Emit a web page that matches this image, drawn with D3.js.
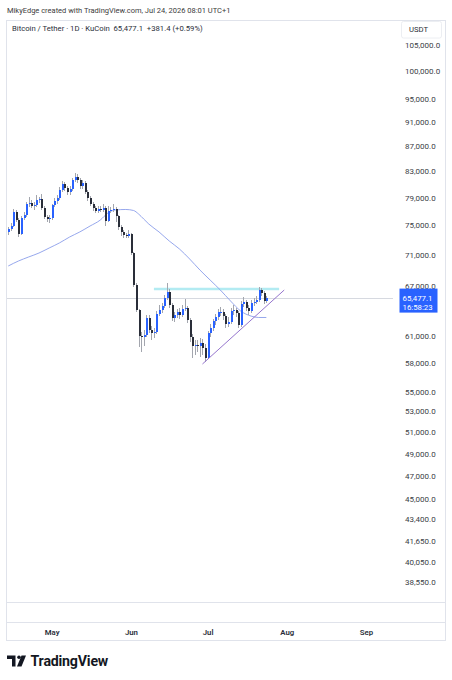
<!DOCTYPE html>
<html><head><meta charset="utf-8">
<script src="https://cdn.jsdelivr.net/npm/d3@7"></script>
<style>
body{margin:0;background:#fff;}
svg{display:block;font-family:Roboto,"Noto Sans",sans-serif;}
</style></head><body>
<svg id="c" width="452" height="680"></svg>
<script>
// ---------- DATA ----------
const startDate = "2026-04-14";
const opens = [74080,74490,74900,76890,75740,73800,76030,76460,78050,78190,
 77760,77900,78630,78780,77470,76170,75890,76030,77900,78480,
 78920,80100,81010,80400,79800,80250,81620,82080,81620,80710,
 81160,79800,78920,78050,77470,77040,77320,77180,77470,75600,
 77040,77180,77320,76320,74760,74080,73660,73520,73800,71220,
 67090,64030,61000,60890,61120,63090,61690,61350,61460,63560,
 64030,64510,65480,66220,64630,63090,63440,63790,63440,64150,
 64270,62850,60890,59880,59990,59880,60210,59650,58550,61350,
 61920,62740,63200,63790,63850,63320,62390,62620,63910,64030,
 63680,62270,64750,65000,64270,63910,64870,65050,65240,66470,
 66100,65095.7];
const closes = [74490,74900,76890,75740,73800,76030,76460,78050,78190,77760,
 77900,78630,78780,77470,76170,75890,76030,77900,78480,78920,
 80100,81010,80400,79800,80250,81620,82080,81620,80710,81160,
 79800,78920,78050,77470,77040,77320,77180,77470,75600,77040,
 77180,77320,76320,74760,74080,73660,73520,73800,71220,67090,
 64030,61000,60890,61120,63090,61690,61350,61460,63560,64030,
 64510,65480,66220,64630,63090,63440,63790,63440,64150,64270,
 62850,60890,59880,59990,59880,60210,59650,58550,61350,61920,
 62740,63200,63790,63850,63320,62390,62620,63910,64030,63680,
 62270,64750,65000,64270,63910,64870,65050,65240,66470,66100,
 65095.7,65477.1];
const highs = [74800,75300,77300,77200,76000,76300,76900,78400,79000,78700,
 78300,79300,79100,79500,77700,76500,76500,78100,78900,79300,
 80600,81500,81300,80700,80700,82000,82700,82500,81900,81600,
 81400,80100,79200,78300,77800,77700,77800,78100,77800,77800,
 77600,78000,77600,76500,75000,74300,74000,74300,74000,71400,
 67300,64200,61500,61700,63500,63400,62100,61900,63900,64600,
 64900,65900,67300,66600,64900,63800,64200,64300,64600,65400,
 64500,63100,61200,60600,60500,60800,60700,60100,61600,62400,
 63000,63600,64200,64400,64100,63600,63200,64300,64600,64300,
 63900,65100,65600,65300,64600,65200,65500,65700,66800,66750,
 66300,65700];
const lows = [73700,74200,74700,75500,73400,73600,75800,76200,77600,77400,
 77200,77600,78200,77200,75900,75500,75300,75800,77600,78100,
 78700,79800,80000,79400,79300,80000,81300,81200,80300,80300,
 79500,78500,77700,77100,76700,76800,76900,76900,74900,75400,
 76700,76900,75500,74400,73500,73300,73200,73300,71000,66800,
 63800,59800,59200,59900,60900,61300,60500,60800,61200,63300,
 63700,64300,65200,64300,62700,62600,63100,63000,63200,63900,
 62500,60300,58500,58900,59200,58700,58900,58100,58400,60900,
 61600,62300,62900,63300,62900,61900,62000,62400,63500,63200,
 61900,62000,64400,63900,63400,63700,64500,64800,65000,65700,
 64800,64900];
// moving average, read at a few dates
const maDates = ["2026-04-14","2026-04-18","2026-04-22","2026-04-26","2026-04-30","2026-05-04","2026-05-08","2026-05-12","2026-05-16","2026-05-20","2026-05-23","2026-05-26","2026-05-30","2026-06-02","2026-06-04","2026-06-06","2026-06-08","2026-06-12","2026-06-16","2026-06-20","2026-06-24","2026-06-28","2026-07-02","2026-07-06","2026-07-10","2026-07-14","2026-07-18","2026-07-21","2026-07-24"];
const maValues = [69520,70170,70700,71220,71890,72570,73380,74080,74900,75740,76750,77180,77250,77110,76600,75890,75180,74080,72840,71760,70430,69000,67720,66470,65120,63910,63320,63150,63150];
const resistance = {from:"2026-06-10", to:"2026-07-29", price:66600};
const trendline = {from:"2026-06-29", p1:57900, to:"2026-07-31", p2:66470};
const priceTicks = [105000,100000,95000,91000,87000,83000,79000,75000,71000,67000,61000,58000,55000,53000,51000,49000,47000,45000,43400,41650,40050,38550];
const monthTicks = ["2026-05-01","2026-06-01","2026-07-01","2026-08-01","2026-09-01"];
const lastPrice = 65477.1, lastTime = "16:58:23";
const headerText = "MikyEdge created with TradingView.com, Jul 24, 2026 08:01 UTC+1";
const legendText = "Bitcoin / Tether · 1D · KuCoin  65,477.1  +381.4 (+0.59%)";

// ---------- LAYOUT ----------
const L=6.5, R=445.5, PR=393, TOP=20.5, PB=602.5, SB=622.5, BOT=640.5;
const UP="#2962ff", DN="#2a2e39", BORDER="#e0e3eb";
const parse=d3.timeParse("%Y-%m-%d");
const svg=d3.select("#c");
const x=d3.scaleTime().domain([parse("2026-05-01"),parse("2026-09-01")]).range([51.7,366]);
const y=d3.scaleLog().domain([38550,105000]).range([582,45]);
const start=parse(startDate);
const bars=closes.map((c,i)=>({d:d3.timeDay.offset(start,i),o:opens[i],h:highs[i],l:lows[i],c:c}));

svg.append("text").attr("x",7).attr("y",13).attr("font-size",7.5).attr("fill","#3b3b3b").text(headerText);

// frame
const g=svg.append("g");
g.append("rect").attr("x",L).attr("y",TOP).attr("width",R-L).attr("height",BOT-TOP).attr("fill","none").attr("stroke",BORDER);
g.append("line").attr("x1",L).attr("x2",R).attr("y1",PB).attr("y2",PB).attr("stroke",BORDER);
g.append("line").attr("x1",L).attr("x2",R).attr("y1",SB).attr("y2",SB).attr("stroke",BORDER);

svg.append("defs").append("clipPath").attr("id","clip").append("rect").attr("x",L+0.5).attr("y",TOP+0.5).attr("width",PR-L).attr("height",PB-TOP-1);
const plot=svg.append("g").attr("clip-path","url(#clip)");

// current price line
plot.append("line").attr("x1",L).attr("x2",PR).attr("y1",Math.round(y(lastPrice))+0.5).attr("y2",Math.round(y(lastPrice))+0.5).attr("stroke","#d6d9e0").attr("stroke-width",1);

// resistance
plot.append("line").attr("x1",x(parse(resistance.from))).attr("x2",x(parse(resistance.to)))
 .attr("y1",y(resistance.price)).attr("y2",y(resistance.price)).attr("stroke","#b2ebf2").attr("stroke-width",2.5);

// MA
plot.append("path").datum(maDates.map((d,i)=>[parse(d),maValues[i]]))
 .attr("d",d3.line().x(d=>x(d[0])).y(d=>y(d[1])).curve(d3.curveMonotoneX))
 .attr("fill","none").attr("stroke","#8a9dea").attr("stroke-width",0.9);

// candles
const cg=plot.append("g").attr("shape-rendering","crispEdges");
cg.selectAll("line.w").data(bars).join("line")
 .attr("x1",d=>Math.round(x(d.d))+0.5).attr("x2",d=>Math.round(x(d.d))+0.5)
 .attr("y1",d=>y(d.h)).attr("y2",d=>y(d.l)).attr("stroke","#a3a6ae").attr("stroke-width",1);
cg.selectAll("rect.b").data(bars).join("rect")
 .attr("x",d=>Math.round(x(d.d))-0.5).attr("width",2)
 .attr("y",d=>y(Math.max(d.o,d.c))).attr("height",d=>Math.max(1,y(Math.min(d.o,d.c))-y(Math.max(d.o,d.c))))
 .attr("fill",d=>d.c>=d.o?UP:DN);

// trendline
plot.append("line").attr("x1",x(parse(trendline.from))).attr("y1",y(trendline.p1))
 .attr("x2",x(parse(trendline.to))).attr("y2",y(trendline.p2)).attr("stroke","#9575cd").attr("stroke-width",1);

// legend
svg.append("text").attr("x",12).attr("y",31).attr("font-size",7.7).attr("fill","#2a2e39").attr("xml:space","preserve").text(legendText);
svg.append("rect").attr("x",401.5).attr("y",21.5).attr("width",40).attr("height",16.5).attr("rx",2).attr("fill","#fff").attr("stroke","#eceef2");
svg.append("text").attr("x",409).attr("y",31.5).attr("font-size",7.7).attr("fill","#2a2e39").text("USDT");

// price axis
const ya=svg.append("g").attr("transform",`translate(${PR+12},0)`)
 .call(d3.axisRight(y).tickValues(priceTicks).tickFormat(d3.format(",.1f")).tickSize(0).tickPadding(0));
ya.select(".domain").remove();
ya.selectAll("text").attr("font-size",8).attr("fill","#3b3e46").attr("font-family","Roboto,sans-serif");

// last price label
const ly=y(lastPrice);
svg.append("rect").attr("x",399.5).attr("y",ly-9.5).attr("width",38).attr("height",24).attr("fill","#2962ff");
svg.append("text").attr("x",402.5).attr("y",ly+2.5).attr("font-size",7.8).attr("fill","#fff").text(d3.format(",.1f")(lastPrice));
svg.append("text").attr("x",402.5).attr("y",ly+11.5).attr("font-size",7.8).attr("fill","#fff").text(lastTime);

// time axis
const xa=svg.append("g").attr("transform",`translate(0,${SB+9.5})`)
 .call(d3.axisBottom(x).tickValues(monthTicks.map(parse)).tickFormat(d3.timeFormat("%b")).tickSize(0).tickPadding(0));
xa.select(".domain").remove();
xa.selectAll("text").attr("font-size",7.8).attr("font-weight",600).attr("fill","#2a2e39").attr("dy","0.32em").attr("font-family","Roboto,sans-serif");

// logo
const lg=svg.append("g").attr("fill","#131722");
lg.append("path").attr("d","M7,655.5 H15.5 V666.5 H12 V659 H7 Z");
lg.append("circle").attr("cx",19).attr("cy",657.3).attr("r",1.8);
lg.append("path").attr("d","M21.5,655.5 H26 L21.5,666.5 H17 Z");
svg.append("text").attr("x",30.5).attr("y",666).attr("font-size",14.2).attr("font-weight",700).attr("fill","#131722").attr("letter-spacing",-0.2).text("TradingView");
</script>
</body></html>
